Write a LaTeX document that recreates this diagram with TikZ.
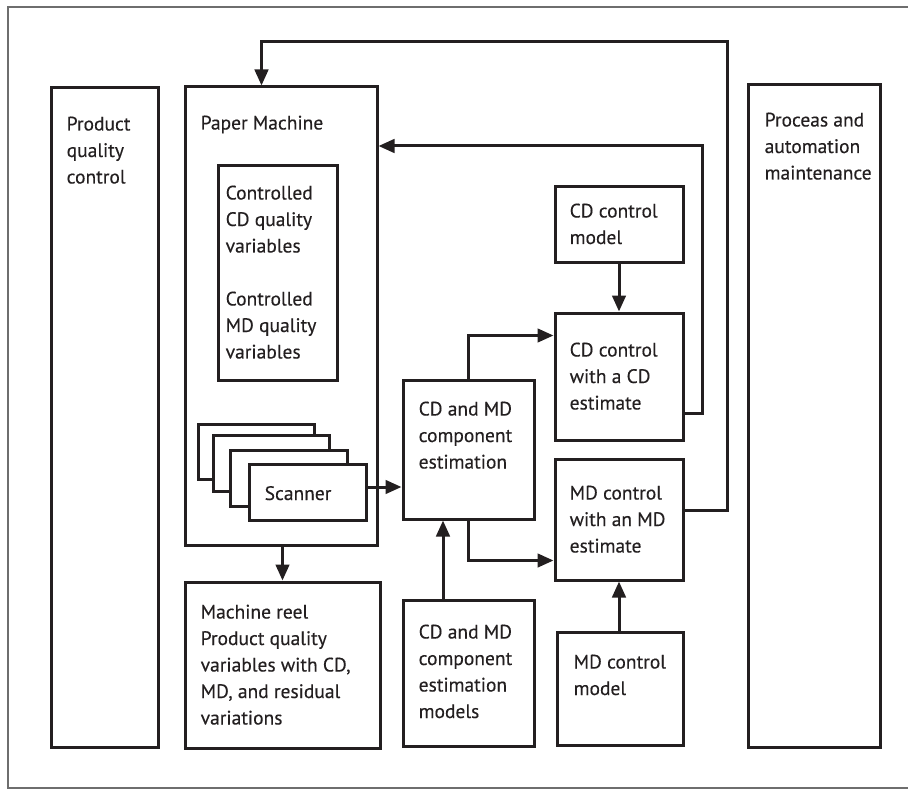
\documentclass[tikz,border=0pt]{standalone}
\usepackage{fontspec}
\setmainfont[FakeBold=0.25]{PT Sans}
\usetikzlibrary{arrows.meta,calc}
\definecolor{ink}{HTML}{231F20}
\definecolor{frame}{HTML}{6E6E6E}
\newcommand\lines[1]{\begin{tabular}[t]{@{}l@{}}#1\end{tabular}}
\begin{document}
\begin{tikzpicture}[x=1pt,y=-1pt,
  box/.style={draw=ink,line width=3pt,fill=white,inner sep=0pt},
  lbl/.style={anchor=base west,inner sep=0pt,text=ink,font=\fontsize{19.5}{26.5}\selectfont},
  arr/.style={draw=ink,line width=3pt,-{Triangle[length=16pt,width=13.5pt]}},
  wire/.style={draw=ink,line width=3pt}]
\useasboundingbox (0,0) rectangle (908,789);
% outer frame (open on the right)
\draw[frame,line width=1.3pt] (908,7) -- (8,7) -- (8,788) -- (908,788);

% side columns
\node[box,minimum width=107pt,minimum height=659pt] (pqc) at (104.5,417.5) {};
\node[lbl] (pqcT) at ($(pqc.north west)+(17,44)$) {\lines{Product\\quality\\control}};
\node[box,minimum width=132pt,minimum height=662pt] (pam) at (814,416) {};
\node[lbl] (pamT) at ($(pam.north west)+(18,43)$) {\lines{Proceas and\\automation\\maintenance}};

% paper machine
\node[box,minimum width=192pt,minimum height=458pt] (pm) at (281,316) {};
\node[lbl] (pmT) at ($(pm.north west)+(17,44)$) {Paper Machine};
\node[box,minimum width=119pt,minimum height=214pt] (ctrl) at (277.5,273) {};
\node[lbl] (ctrlT) at ($(ctrl.north west)+(9,35)$) {\lines{Controlled\\CD quality\\variables\\[26.5pt]Controlled\\MD quality\\variables}};

% stacked scanners
\node[box,minimum width=116pt,minimum height=55pt] (sc1) at (256,451.5) {};
\node[box,minimum width=116pt,minimum height=56pt] (sc2) at (271,463) {};
\node[box,minimum width=117pt,minimum height=56pt] (sc3) at (288.5,478) {};
\node[box,minimum width=117pt,minimum height=56pt] (sc4) at (307.5,492) {};
\node[lbl] (scT) at ($(sc4.west)+(17,8)$) {Scanner};

% reel
\node[box,minimum width=195pt,minimum height=166pt] (reel) at (282.5,665) {};
\node[lbl] (reelT) at ($(reel.north west)+(17,38)$) {\lines{Machine reel\\Product quality\\variables with CD,\\MD, and residual\\variations}};

% estimation
\node[box,minimum width=131pt,minimum height=139pt] (est) at (468.5,449.5) {};
\node[lbl] (estT) at ($(est.north west)+(17,37)$) {\lines{CD and MD\\component\\estimation}};
\node[box,minimum width=131pt,minimum height=146pt] (estm) at (468.5,673) {};
\node[lbl] (estmT) at ($(estm.north west)+(17,40)$) {\lines{CD and MD\\component\\estimation\\models}};

% controllers
\node[box,minimum width=128pt,minimum height=75pt] (cdm) at (619,224.5) {};
\node[lbl] (cdmT) at ($(cdm.north west)+(16,32)$) {\lines{CD control\\model}};
\node[box,minimum width=128pt,minimum height=127pt] (cdc) at (619,376.5) {};
\node[lbl] (cdcT) at ($(cdc.north west)+(16,45)$) {\lines{CD control\\with a CD\\estimate}};
\node[box,minimum width=128pt,minimum height=121pt] (mdc) at (619,519.5) {};
\node[lbl] (mdcT) at ($(mdc.north west)+(16,42)$) {\lines{MD control\\with an MD\\estimate}};
\node[box,minimum width=126pt,minimum height=113pt] (mdm) at (620,688.5) {};
\node[lbl] (mdmT) at ($(mdm.north west)+(18,38)$) {\lines{MD control\\model}};

% routing points
\coordinate (mdcOut) at ($(mdc.north east)+(0,53)$);
\coordinate (loopA) at (727,42);
\coordinate (pmIn) at ($(pm.north west)+(78,0)$);
\coordinate (cdcOut) at ($(cdc.north east)+(0,102)$);
\coordinate (loopB) at (702,146);
\coordinate (cdcIn) at ($(cdc.north west)+(0,24)$);
\coordinate (mdcIn) at ($(mdc.south west)+(0,-21)$);
\coordinate (scOut) at ($(sc4.east)+(0,-5)$);
\coordinate (modX) at (443,0);

% connectors
\draw[arr] (mdcOut) -| (loopA) -| (pmIn);
\draw[arr] (cdcOut) -| (loopB) -- (loopB -| pm.east);
\draw[arr] (cdm) -- (cdc);
\draw[arr] (mdm.north -| mdc.south) -- (mdc.south);
\draw[arr] (estm.north -| modX) -- (est.south -| modX);
\draw[arr] (est.north) |- (cdcIn);
\draw[arr] (est.south) |- (mdcIn);
\draw[arr] (scOut) -- (scOut -| est.west);
\draw[arr] (pm.south -| reel.north) -- (reel.north);
\end{tikzpicture}
\end{document}
